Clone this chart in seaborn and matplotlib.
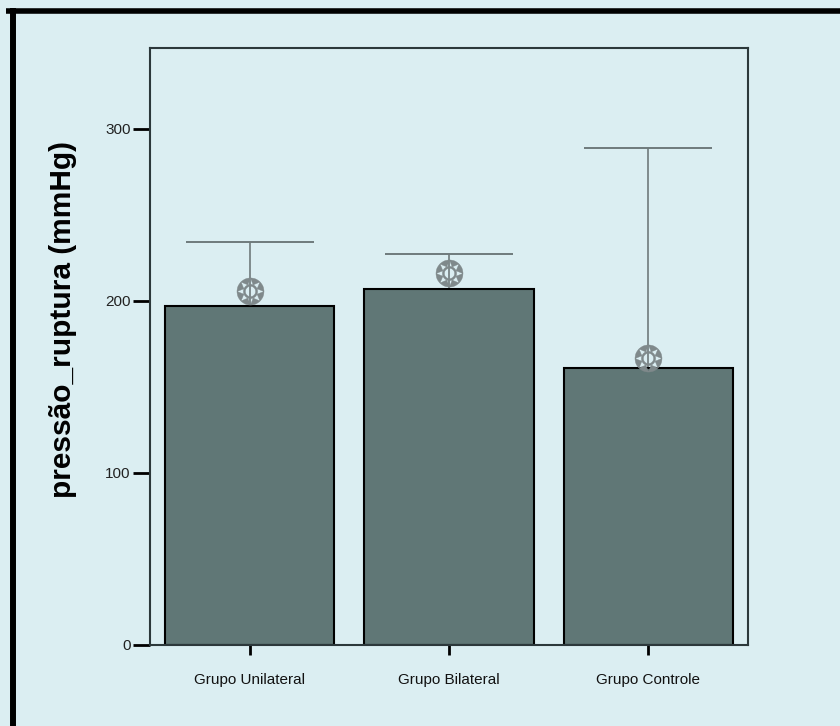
import matplotlib
matplotlib.use("Agg")
import matplotlib.pyplot as plt
from matplotlib.lines import Line2D
import seaborn as sns
import numpy as np

# Group labels and values (mmHg)
groups = ["Grupo Unilateral", "Grupo Bilateral", "Grupo Controle"]
bar_means = [197, 207, 161]
ci_centers = [206, 216, 167]
ci_upper = [234, 227, 289]
y_ticks = [0, 100, 200, 300]

bg = "#dbeef2"
bar_color = "#607776"
frame_color = "#2c383b"

sns.set_theme(style="white")
plt.rcParams["font.family"] = ["Liberation Sans", "DejaVu Sans"]

fig = plt.figure(figsize=(8.4, 7.26), dpi=100, facecolor=bg)
ax = fig.add_axes([150 / 840, 1 - 645 / 726, 598 / 840, 597 / 726])
ax.set_facecolor(bg)

sns.barplot(x=groups, y=bar_means, color=bar_color, edgecolor="black",
            linewidth=1.5, width=0.85, saturation=1, ax=ax, zorder=2)

x = np.arange(len(groups))
centers = np.array(ci_centers, dtype=float)
upper = np.array(ci_upper, dtype=float)
half = upper - centers
ax.errorbar(x, centers, yerr=half, fmt="none", ecolor="#6f7a7c",
            elinewidth=1.2, capsize=46, capthick=1.4, zorder=1)
ax.scatter(x, centers, marker="$\u2742$", s=380, color="#7f898b",
           linewidths=0.3, zorder=3)

ax.set_xlim(-0.5, 2.5)
ax.set_ylim(0, 347)
ax.set_yticks(y_ticks)
ax.set_yticklabels([str(v) for v in y_ticks], fontsize=11, color="#222222")
ax.tick_params(axis="y", direction="out", length=12, width=2, color="black",
               pad=2, left=True)
ax.tick_params(axis="x", direction="out", length=7, width=2, color="black",
               pad=13, bottom=True, labelsize=11, labelcolor="#111111")

for s in ax.spines.values():
    s.set_visible(True)
    s.set_color(frame_color)
    s.set_linewidth(1.5)

ax.set_xlabel("")
ax.set_ylabel("pressão_ruptura (mmHg)", fontsize=21.5, fontweight="bold",
              color="black")
ax.yaxis.set_label_coords(-0.122, 0.545)

# heavy frame lines along the top and left edges
fig.add_artist(Line2D([6 / 840, 1.0], [1 - 10.5 / 726, 1 - 10.5 / 726],
                      transform=fig.transFigure, color="black", linewidth=4,
                      solid_capstyle="butt"))
fig.add_artist(Line2D([12.5 / 840, 12.5 / 840], [0, 1 - 8 / 726],
                      transform=fig.transFigure, color="black", linewidth=4.3,
                      solid_capstyle="butt"))

fig.savefig("out.png", dpi=100, facecolor=bg)
